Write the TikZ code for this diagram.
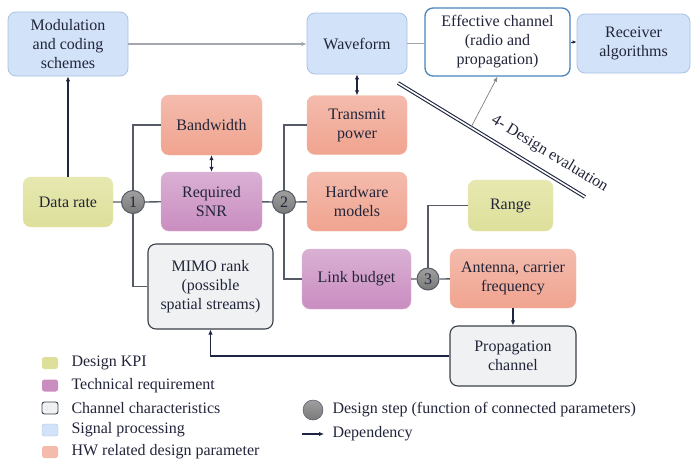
\documentclass[tikz,border=0pt]{standalone}
\usepackage{fontspec}
\setmainfont{Liberation Serif}
\usepackage{tikz}
\usetikzlibrary{arrows.meta}

\definecolor{txt}{HTML}{22253A}
\definecolor{line}{HTML}{555A66}
\definecolor{lgray}{HTML}{A3A7AD}
\definecolor{navy}{HTML}{1E2540}
\definecolor{spfill}{HTML}{D2E2F8}
\definecolor{spdraw}{HTML}{A8C2E4}
\definecolor{hwtop}{HTML}{F4BBAD}
\definecolor{hwbot}{HTML}{F0A48F}
\definecolor{trtop}{HTML}{DAB0D4}
\definecolor{trbot}{HTML}{C98DC0}
\definecolor{kpitop}{HTML}{E6E8B0}
\definecolor{kpibot}{HTML}{DDE09A}
\definecolor{chfill}{HTML}{F0F1F3}
\definecolor{chdraw}{HTML}{3A3F4A}
\definecolor{effdraw}{HTML}{4A84BC}

\begin{document}
\begin{tikzpicture}[x=1pt,y=-1pt,
  every node/.style={font=\rmfamily\fontsize{16}{19}\selectfont, text=txt},
  box/.style={rounded corners=8pt, align=center, inner sep=2pt},
  sp/.style={box, fill=spfill, draw=spdraw, line width=0.8pt},
  hw/.style={box, top color=hwtop, bottom color=hwbot, draw=hwtop},
  tr/.style={box, top color=trtop, bottom color=trbot, draw=trtop},
  kpi/.style={box, top color=kpitop, bottom color=kpibot, draw=kpitop},
  ch/.style={box, fill=chfill, draw=chdraw, line width=1.1pt},
  stepdot/.style={circle, minimum size=23pt, inner sep=0pt, top color=gray!75, bottom color=gray!95!black, draw=line, line width=1pt},
  conn/.style={line, line width=1.3pt},
  dep/.style={navy, line width=1.4pt, -{Latex[length=5pt,width=4.5pt]}},
  legbox/.style={rounded corners=2.5pt, minimum width=16pt, minimum height=12pt, inner sep=0pt}]
\useasboundingbox (0,0) rectangle (691,464);

% signal processing
\node[sp, minimum width=120pt, minimum height=64pt] (mcs) at (68,44) {Modulation\\and coding\\schemes};
\node[sp, minimum width=100pt, minimum height=61pt] (wave) at (357,43.5) {Waveform};
\node[box, fill=white, draw=effdraw, line width=1.3pt, minimum width=145pt, minimum height=68pt] (eff) at (497.5,42) {Effective channel\\(radio and\\propagation)};
\node[sp, minimum width=113pt, minimum height=59pt] (rx) at (633.5,43.5) {Receiver\\algorithms};

% design parameters
\node[hw, minimum width=101pt, minimum height=60pt] (bw) at (211.5,125) {Bandwidth};
\node[tr, minimum width=101pt, minimum height=59pt] (snr) at (211.5,201.5) {Required\\SNR};
\node[kpi, minimum width=90pt, minimum height=50pt] (rate) at (68,202) {Data rate};
\node[hw, minimum width=100pt, minimum height=59pt] (tx) at (357,125) {Transmit\\power};
\node[hw, minimum width=100pt, minimum height=59pt] (hwm) at (357,201.5) {Hardware\\models};
\node[kpi, minimum width=85pt, minimum height=51pt] (range) at (510.5,205.5) {Range};
\node[ch, minimum width=125pt, minimum height=85pt] (mimo) at (210.5,286.5) {MIMO rank\\(possible\\spatial streams)};
\node[tr, minimum width=109pt, minimum height=60pt] (link) at (356.5,279) {Link budget};
\node[hw, minimum width=126pt, minimum height=59pt] (ant) at (513,278.5) {Antenna, carrier\\frequency};
\node[ch, minimum width=126pt, minimum height=60pt] (prop) at (513,356) {Propagation\\channel};

% design steps
\node[stepdot] (c1) at (133,202) {1};
\node[stepdot] (c2) at (284,202) {2};
\node[stepdot, minimum size=22pt] (c3) at (428,279) {3};

% connections
\draw[conn] (rate) -- (c1) -- (snr);
\draw[conn] (bw.west) -| (c1.north);
\draw[conn] (c1.south) |- (mimo.west);
\draw[conn] (snr) -- (c2) -- (hwm);
\draw[conn] (tx.west) -| (c2.north);
\draw[conn] (c2.south) |- (link.west);
\draw[conn] (link) -- (c3) -- (ant);
\draw[conn] (c3.north) |- (range.west);

% dependencies
\draw[dep] (rate.north) -- (mcs.south);
\draw[dep, {Latex[length=5pt,width=4.5pt]}-{Latex[length=5pt,width=4.5pt]}] (bw.south) -- (snr.north);
\draw[dep, {Latex[length=5pt,width=4.5pt]}-{Latex[length=5pt,width=4.5pt]}] (wave.south) -- (tx.north);
\draw[dep] (ant.south) -- (prop.north);
\draw[dep] (prop.west) -| (mimo.south);
\draw[lgray, line width=1.3pt, -{Latex[length=5pt,width=4.5pt]}] (mcs.east) -- (mcs.east -| wave.west);
\draw[lgray, line width=1.3pt] (wave.east) -- (wave.east -| eff.west);
\draw[navy, line width=1pt, -{Latex[length=4pt,width=3.5pt]}] (eff.east) -- (eff.east -| rx.west);

% design evaluation
\coordinate (ev1) at (398,83);
\coordinate (ev2) at (585,197);
\draw[navy, line width=1.1pt, double=white, double distance=1.6pt] (ev1) -- (ev2)
  node[pos=0.76, sloped, above=7pt] (evl) {4- Design evaluation}
  coordinate[pos=0.39] (evp);
\draw[gray, line width=0.7pt, -{Latex[length=5pt,width=4pt]}] (evp) -- (eff.south);

% legend
\node[legbox, fill=kpibot] (lkpi) at (50,363) {};
\node[anchor=west] (tkpi) at (68,363) {Design KPI};
\node[legbox, fill=trbot] (ltr) at (50,385.5) {};
\node[anchor=west] (ttr) at (68,385.5) {Technical requirement};
\node[legbox, fill=chfill, draw=chdraw, line width=0.9pt] (lch) at (50,408) {};
\node[anchor=west] (tch) at (68,408) {Channel characteristics};
\node[legbox, fill=spfill, draw=spdraw] (lsp) at (50,430) {};
\node[anchor=west] (tsp) at (68,430) {Signal processing};
\node[legbox, fill=hwtop] (lhw) at (50,452) {};
\node[anchor=west] (thw) at (68,452) {HW related design parameter};
\node[stepdot, minimum size=20pt, line width=0.5pt] (lstep) at (313,410) {};
\node[anchor=west] (tstep) at (329,410) {Design step (function of connected parameters)};
\coordinate (ldep1) at (302,434);
\coordinate (ldep2) at (324,434);
\draw[dep] (ldep1) -- (ldep2);
\node[anchor=west] (tdep) at (329,434) {Dependency};
\end{tikzpicture}
\end{document}
